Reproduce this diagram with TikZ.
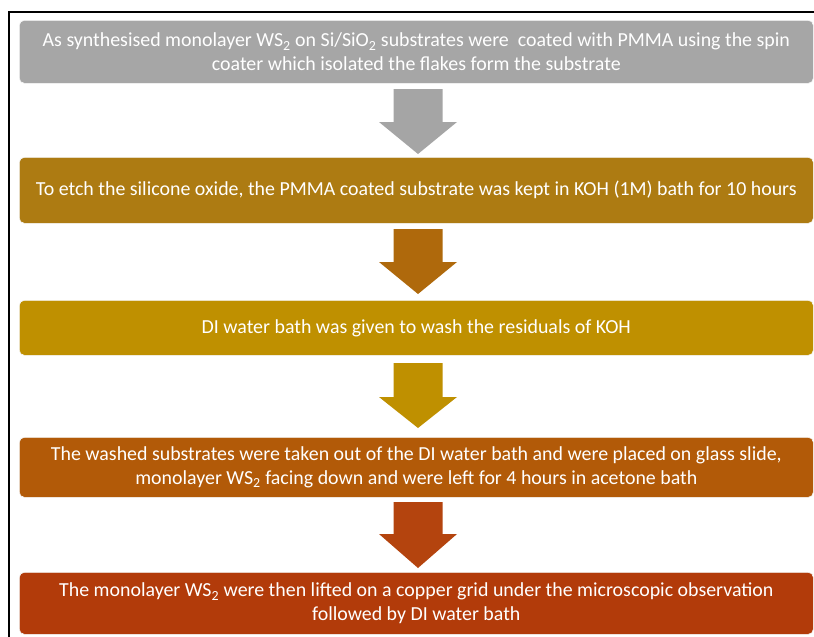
\documentclass[tikz,border=0pt]{standalone}
\usepackage{fontspec}
\setmainfont{Carlito}
\definecolor{cgray}{HTML}{A6A6A6}
\definecolor{cbrown}{HTML}{AD7B12}
\definecolor{cgold}{HTML}{BF9000}
\definecolor{corange}{HTML}{B25A08}
\definecolor{cred}{HTML}{B23B0A}
\definecolor{agray}{HTML}{A5A5A5}
\definecolor{abrown}{HTML}{AF690C}
\definecolor{agold}{HTML}{BF9000}
\definecolor{ared}{HTML}{B4440E}
\newcommand{\barrow}[4]{%
  \fill[#1] (393.5,#2) -- (442.5,#2) -- (442.5,#3) -- (457,#3) -- (418,#4)
    -- (379,#3) -- (393.5,#3) -- cycle;}
\begin{document}
\begin{tikzpicture}[x=1pt,y=-1pt,
  stepbox/.style={draw=white!70!black!10, line width=0.6pt, rounded corners=5pt,
    text=white, align=center, font=\fontsize{19.9}{23.4}\selectfont,
    minimum width=794pt, inner sep=0pt, anchor=north west}]
\clip (0,0) rectangle (814,637);
\useasboundingbox (0,0) rectangle (814,637);
\fill[white] (0,0) rectangle (814,637);
\draw[line width=1.8pt] (9,660) -- (9,12) -- (840,12);

\node[stepbox, fill=cgray, minimum height=63pt] (b1) at (19,20)
  {As synthesised monolayer WS\textsubscript{2} on Si/SiO\textsubscript{2} substrates were\ \ coated with PMMA using the spin\\
   coater which isolated the flakes form the substrate};
\node[stepbox, fill=cbrown, minimum height=66pt] (b2) at (19,157)
  {To etch the silicone oxide, the PMMA coated substrate was kept in KOH (1M) bath for 10 hours};
\node[stepbox, fill=cgold, minimum height=55pt] (b3) at (19,300)
  {DI water bath was given to wash the residuals of KOH};
\node[stepbox, fill=corange, minimum height=60pt] (b4) at (19,437)
  {The washed substrates were taken out of the DI water bath and were placed on glass slide,\\
   monolayer WS\textsubscript{2} facing down and were left for 4 hours in acetone bath};
\node[stepbox, fill=cred, minimum height=62pt] (b5) at (19,572)
  {The monolayer WS\textsubscript{2} were then lifted on a copper grid under the microscopic observation\\
   followed by DI water bath};

\barrow{agray}{89}{122}{154}
\barrow{abrown}{229}{262}{294}
\barrow{agold}{363}{397}{428}
\barrow{ared}{502}{534}{568}
\end{tikzpicture}
\end{document}
